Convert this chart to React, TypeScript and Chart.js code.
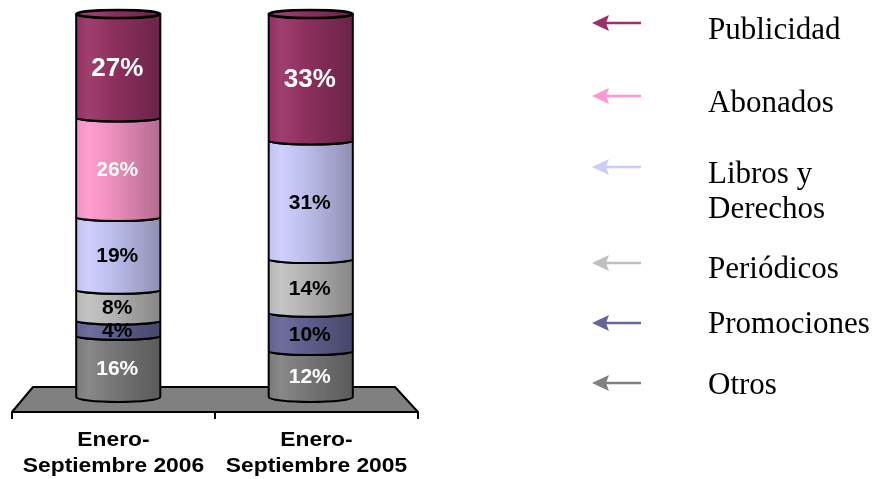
import React, { useEffect, useRef } from "react";
import { Chart, registerables } from "chart.js";
Chart.register(...registerables);

// ---- data ----
const categoryLines = [["Enero-", "Septiembre 2006"], ["Enero-", "Septiembre 2005"]];
const categories = ["Enero-Septiembre 2006", "Enero-Septiembre 2005"];
const seriesNames = ["Otros", "Promociones", "Periódicos", "Libros y Derechos", "Abonados", "Publicidad"];
const otros = [16, 12];
const promociones = [4, 10];
const periodicos = [8, 14];
const libros = [19, 31];
const abonados = [26, 0];
const publicidad = [27, 33];
const seriesValues = [otros, promociones, periodicos, libros, abonados, publicidad];

// ---- styles ----
const seriesColors = ["#808080", "#666699", "#C0C0C0", "#CCCCFF", "#FF99CC", "#993366"];
const labelColors = ["#ffffff", "#000000", "#000000", "#000000", "#ffffff", "#ffffff"];
const labelSizes = [21, 21, 21, 21, 21, 26];
const legendTextLines = [["Otros"], ["Promociones"], ["Periódicos"], ["Libros y", "Derechos"], ["Abonados"], ["Publicidad"]];
const legendArrowY = [383, 323, 263, 167, 96, 23];
const legendBaselines = [[394], [333], [278], [183, 218], [112], [39]];

function hexToRgb(h: string) {
  const n = parseInt(h.slice(1), 16);
  return [(n >> 16) & 255, (n >> 8) & 255, n & 255];
}
function shade(h: string, f: number) {
  const [r, g, b] = hexToRgb(h);
  const c = (v: number) => Math.max(0, Math.min(255, Math.round(v * f)));
  return `rgb(${c(r)},${c(g)},${c(b)})`;
}
function lighten(h: string, f: number) {
  const [r, g, b] = hexToRgb(h);
  const c = (v: number) => Math.round(v + (255 - v) * f);
  return `rgb(${c(r)},${c(g)},${c(b)})`;
}

const cylinderPlugin = {
  id: "cylinders",
  beforeDatasetsDraw(chart: any) {
    const ctx = chart.ctx;
    const area = chart.chartArea;
    const y0 = chart.scales.y.getPixelForValue(0);
    const fTop = y0 - 10;
    const fBot = y0 + 15;
    const bl = area.left - 10;
    const br = area.right + 11;
    const tl = area.left + 11;
    const tr = area.right - 12;
    ctx.save();
    ctx.beginPath();
    ctx.moveTo(tl, fTop);
    ctx.lineTo(tr, fTop);
    ctx.lineTo(br, fBot);
    ctx.lineTo(bl, fBot);
    ctx.closePath();
    ctx.fillStyle = "#808080";
    ctx.fill();
    ctx.lineWidth = 2;
    ctx.strokeStyle = "#000";
    ctx.lineJoin = "round";
    ctx.stroke();
    // ticks
    const mid = (bl + br) / 2;
    ctx.beginPath();
    [bl, mid, br].forEach((x) => {
      ctx.moveTo(x, fBot);
      ctx.lineTo(x, fBot + 7);
    });
    ctx.stroke();
    // category labels (horizontally stretched, as in the reference)
    ctx.fillStyle = "#000";
    ctx.font = "bold 19.5px 'Liberation Sans', Arial, sans-serif";
    ctx.textAlign = "center";
    ctx.textBaseline = "alphabetic";
    const centers = [(bl + mid) / 2, (mid + br) / 2];
    const lines = chart.data.labels.map((_: any, i: number) => categoryLines[i]);
    lines.forEach((ls: string[], i: number) => {
      ls.forEach((t, k) => {
        ctx.save();
        ctx.translate(centers[i], fBot + 34 + k * 26);
        ctx.scale(1.17, 1);
        ctx.fillText(t, 0, 0);
        ctx.restore();
      });
    });
    ctx.restore();
  },
  afterDatasetsDraw(chart: any) {
    const ctx = chart.ctx;
    const ry = 4;
    const nCat = chart.data.labels.length;
    const nSet = chart.data.datasets.length;
    ctx.save();
    for (let j = 0; j < nCat; j++) {
      const segs: any[] = [];
      for (let i = 0; i < nSet; i++) {
        const v = chart.data.datasets[i].data[j];
        if (!v) continue;
        const el = chart.getDatasetMeta(i).data[j];
        segs.push({ i, el, v });
      }
      segs.forEach((s, idx) => {
        const { el, i } = s;
        const x = el.x;
        const rx = el.width / 2;
        const left = x - rx;
        const right = x + rx;
        const top = el.y;
        const bottom = el.base;
        const base = seriesColors[i];
        const g = ctx.createLinearGradient(left, 0, right, 0);
        g.addColorStop(0, shade(base, 0.95));
        g.addColorStop(0.15, lighten(base, 0.06));
        g.addColorStop(0.45, shade(base, 0.92));
        g.addColorStop(1, shade(base, 0.7));
        ctx.beginPath();
        ctx.moveTo(left, top);
        ctx.ellipse(x, top, rx, ry, 0, Math.PI, 0, true);
        ctx.lineTo(right, bottom);
        ctx.ellipse(x, bottom, rx, ry + (idx === 0 ? 1 : 0), 0, 0, Math.PI, false);
        ctx.closePath();
        ctx.fillStyle = g;
        ctx.fill();
        ctx.lineWidth = 2;
        ctx.strokeStyle = "#000";
        ctx.stroke();
        if (idx === segs.length - 1) {
          ctx.beginPath();
          ctx.ellipse(x, top, rx, ry, 0, 0, Math.PI * 2);
          ctx.fillStyle = g;
          ctx.fill();
          ctx.lineWidth = 2.5;
          ctx.stroke();
        }
      });
      // labels
      segs.forEach((s) => {
        const { el, i, v } = s;
        ctx.fillStyle = labelColors[i];
        ctx.font = `bold ${labelSizes[i]}px 'Liberation Sans', Arial, sans-serif`;
        ctx.textAlign = "center";
        ctx.textBaseline = "middle";
        ctx.fillText(`${v}%`, el.x - 1, (el.y + el.base) / 2 + 3);
      });
    }
    // legend
    for (let i = 0; i < nSet; i++) {
      const color = seriesColors[i];
      const y = legendArrowY[i];
      ctx.strokeStyle = color;
      ctx.fillStyle = color;
      ctx.lineWidth = 2.5;
      ctx.beginPath();
      ctx.moveTo(604, y);
      ctx.lineTo(641, y);
      ctx.stroke();
      ctx.beginPath();
      ctx.moveTo(592, y);
      ctx.lineTo(609, y - 8);
      ctx.lineTo(606, y);
      ctx.lineTo(609, y + 8);
      ctx.closePath();
      ctx.fill();
      ctx.fillStyle = "#000";
      ctx.font = "31px 'Liberation Serif', 'Times New Roman', serif";
      ctx.textAlign = "left";
      ctx.textBaseline = "alphabetic";
      legendTextLines[i].forEach((t, k) => {
        ctx.fillText(t, 708, legendBaselines[i][k]);
      });
    }
    ctx.restore();
  },
};

export default function App() {
  const ref = useRef<HTMLCanvasElement>(null);
  useEffect(() => {
    if (!ref.current) return;
    const chart = new Chart(ref.current, {
      type: "bar",
      data: {
        labels: categories,
        datasets: seriesNames.map((name, i) => ({
          label: name,
          data: seriesValues[i],
          backgroundColor: "rgba(0,0,0,0)",
          borderWidth: 0,
          categoryPercentage: 1,
          barPercentage: 0.437,
        })),
      },
      options: {
        animation: false,
        responsive: false,
        events: [],
        layout: { padding: { left: 22, right: 473, top: 14, bottom: 82 } },
        plugins: { legend: { display: false }, tooltip: { enabled: false } },
        scales: {
          x: { stacked: true, display: false },
          y: { stacked: true, display: false, min: 0, max: 100 },
        },
      },
      plugins: [cylinderPlugin],
    });
    return () => chart.destroy();
  }, []);
  return (
    <div style={{ position: "absolute", left: 0, top: 0, width: 880, height: 479, background: "#fff" }}>
      <canvas ref={ref} width={880} height={479} />
    </div>
  );
}
